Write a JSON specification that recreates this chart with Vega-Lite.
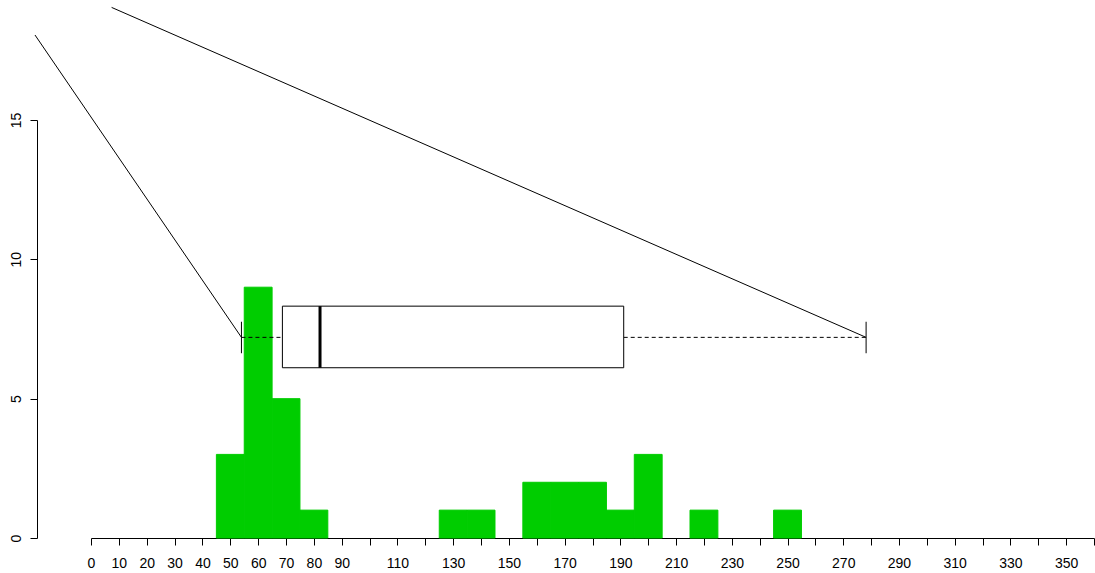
{
  "$schema": "https://vega.github.io/schema/vega-lite/v6.json",
  "width": 1003,
  "height": 418,
  "autosize": {"type": "none"},
  "padding": {"left": 91, "top": 120, "right": 1, "bottom": 35},
  "background": "white",
  "config": {
    "view": {"stroke": null},
    "font": "Liberation Sans",
    "axis": {"domainColor": "black", "tickColor": "black", "labelColor": "black", "labelFontSize": 14, "labelFont": "Liberation Sans", "grid": false, "tickSize": 7, "domainWidth": 1, "tickWidth": 1, "title": null, "labelOverlap": false, "labelFlush": false},
    "axisX": {
      "labelExpr": "(datum.value < 100 || (datum.value % 20 == 10 && datum.value <= 350)) ? datum.label : ''",
      "labelPadding": 11
    },
    "axisY": {
      "offset": 54,
      "labelAngle": 270,
      "labelAlign": "center",
      "labelBaseline": "alphabetic",
      "labelPadding": 10
    }
  },
  "datasets": {
    "hist": [
      {"lo": 45, "hi": 55, "count": 3},
      {"lo": 55, "hi": 65, "count": 9},
      {"lo": 65, "hi": 75, "count": 5},
      {"lo": 75, "hi": 85, "count": 1},
      {"lo": 125, "hi": 135, "count": 1},
      {"lo": 135, "hi": 145, "count": 1},
      {"lo": 155, "hi": 165, "count": 2},
      {"lo": 165, "hi": 175, "count": 2},
      {"lo": 175, "hi": 185, "count": 2},
      {"lo": 185, "hi": 195, "count": 1},
      {"lo": 195, "hi": 205, "count": 3},
      {"lo": 215, "hi": 225, "count": 1},
      {"lo": 245, "hi": 255, "count": 1}
    ],
    "box": [
      {"whisker_lo": 54.0, "q1": 68.7, "median": 82.2, "q3": 191.2, "whisker_hi": 278.2}
    ],
    "links": [
      {"x": -20.1, "y": 18.05, "x_end": 54.0, "y_end": 7.2},
      {"x": 7.4, "y": 19.04, "x_end": 278.2, "y_end": 7.2}
    ]
  },
  "layer": [
    {
      "data": {"name": "hist"},
      "mark": {"type": "rect", "fill": "#00CD00", "stroke": "#00CD00", "strokeWidth": 1},
      "encoding": {
        "x": {
          "field": "lo", "type": "quantitative",
          "scale": {"domain": [0, 360], "nice": false, "zero": false},
          "axis": {"values": [0,10,20,30,40,50,60,70,80,90,100,110,120,130,140,150,160,170,180,190,200,210,220,230,240,250,260,270,280,290,300,310,320,330,340,350,360]}
        },
        "x2": {"field": "hi"},
        "y": {
          "field": "count", "type": "quantitative",
          "scale": {"domain": [0, 15], "nice": false},
          "axis": {"values": [0, 5, 10, 15]}
        },
        "y2": {"datum": 0}
      }
    },
    {
      "data": {"name": "links"},
      "mark": {"type": "rule", "color": "black", "strokeWidth": 1},
      "encoding": {
        "x": {"field": "x", "type": "quantitative", "scale": {"domain": [0, 360], "nice": false, "zero": false},
          "axis": {"values": [0,10,20,30,40,50,60,70,80,90,100,110,120,130,140,150,160,170,180,190,200,210,220,230,240,250,260,270,280,290,300,310,320,330,340,350,360]}},
        "y": {"field": "y", "type": "quantitative", "scale": {"domain": [0, 15], "nice": false}, "axis": {"values": [0, 5, 10, 15]}},
        "x2": {"field": "x_end"},
        "y2": {"field": "y_end"}
      }
    },
    {
      "data": {"name": "box"},
      "mark": {"type": "rule", "color": "black", "strokeWidth": 1, "strokeDash": [4, 3]},
      "encoding": {
        "x": {"field": "whisker_lo", "type": "quantitative", "scale": {"domain": [0, 360], "nice": false, "zero": false},
          "axis": {"values": [0,10,20,30,40,50,60,70,80,90,100,110,120,130,140,150,160,170,180,190,200,210,220,230,240,250,260,270,280,290,300,310,320,330,340,350,360]}},
        "x2": {"field": "q1"},
        "y": {"datum": 7.2, "scale": {"domain": [0, 15], "nice": false}, "axis": {"values": [0, 5, 10, 15]}}
      }
    },
    {
      "data": {"name": "box"},
      "mark": {"type": "rule", "color": "black", "strokeWidth": 1, "strokeDash": [4, 3]},
      "encoding": {
        "x": {"field": "q3", "type": "quantitative", "scale": {"domain": [0, 360], "nice": false, "zero": false},
          "axis": {"values": [0,10,20,30,40,50,60,70,80,90,100,110,120,130,140,150,160,170,180,190,200,210,220,230,240,250,260,270,280,290,300,310,320,330,340,350,360]}},
        "x2": {"field": "whisker_hi"},
        "y": {"datum": 7.2, "scale": {"domain": [0, 15], "nice": false}, "axis": {"values": [0, 5, 10, 15]}}
      }
    },
    {
      "data": {"name": "box"},
      "mark": {"type": "rule", "color": "black", "strokeWidth": 1},
      "encoding": {
        "x": {"field": "whisker_lo", "type": "quantitative", "scale": {"domain": [0, 360], "nice": false, "zero": false},
          "axis": {"values": [0,10,20,30,40,50,60,70,80,90,100,110,120,130,140,150,160,170,180,190,200,210,220,230,240,250,260,270,280,290,300,310,320,330,340,350,360]}},
        "y": {"datum": 6.63, "scale": {"domain": [0, 15], "nice": false}, "axis": {"values": [0, 5, 10, 15]}},
        "y2": {"datum": 7.76}
      }
    },
    {
      "data": {"name": "box"},
      "mark": {"type": "rule", "color": "black", "strokeWidth": 1},
      "encoding": {
        "x": {"field": "whisker_hi", "type": "quantitative", "scale": {"domain": [0, 360], "nice": false, "zero": false},
          "axis": {"values": [0,10,20,30,40,50,60,70,80,90,100,110,120,130,140,150,160,170,180,190,200,210,220,230,240,250,260,270,280,290,300,310,320,330,340,350,360]}},
        "y": {"datum": 6.63, "scale": {"domain": [0, 15], "nice": false}, "axis": {"values": [0, 5, 10, 15]}},
        "y2": {"datum": 7.76}
      }
    },
    {
      "data": {"name": "box"},
      "mark": {"type": "rect", "fill": "white", "stroke": "black", "strokeWidth": 1},
      "encoding": {
        "x": {"field": "q1", "type": "quantitative", "scale": {"domain": [0, 360], "nice": false, "zero": false},
          "axis": {"values": [0,10,20,30,40,50,60,70,80,90,100,110,120,130,140,150,160,170,180,190,200,210,220,230,240,250,260,270,280,290,300,310,320,330,340,350,360]}},
        "x2": {"field": "q3"},
        "y": {"datum": 6.11, "scale": {"domain": [0, 15], "nice": false}, "axis": {"values": [0, 5, 10, 15]}},
        "y2": {"datum": 8.32}
      }
    },
    {
      "data": {"name": "box"},
      "mark": {"type": "rule", "color": "black", "strokeWidth": 3},
      "encoding": {
        "x": {"field": "median", "type": "quantitative", "scale": {"domain": [0, 360], "nice": false, "zero": false},
          "axis": {"values": [0,10,20,30,40,50,60,70,80,90,100,110,120,130,140,150,160,170,180,190,200,210,220,230,240,250,260,270,280,290,300,310,320,330,340,350,360]}},
        "y": {"datum": 6.11, "scale": {"domain": [0, 15], "nice": false}, "axis": {"values": [0, 5, 10, 15]}},
        "y2": {"datum": 8.32}
      }
    }
  ]
}
